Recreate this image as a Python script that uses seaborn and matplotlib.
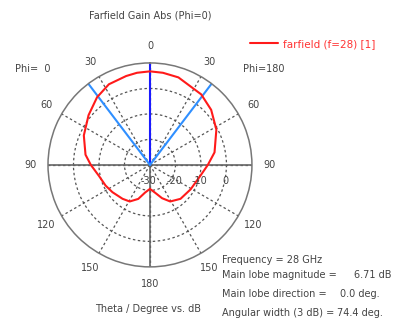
import numpy as np
import pandas as pd
import seaborn as sns
import matplotlib.pyplot as plt

# DATA (theta in deg, gain in dB)
theta_phi0 = [0, 8, 15, 27, 38, 51, 66, 81, 90, 102, 115, 126, 141, 151, 161, 170, 180]
gain_phi0 = [6.7, 6.5, 6.1, 5.5, 3.7, 1.0, -1.6, -4.4, -6.8, -9.5, -10.8, -11.8, -12.9, -13.6, -15.9, -19.0, -20.6]
theta_phi180 = [0, 8, 18, 36, 48, 62, 79, 90, 101, 121, 138, 151, 160, 170, 180]
gain_phi180 = [6.7, 6.5, 6.1, 4.2, 2.3, -0.5, -4.2, -7.3, -9.6, -11.4, -12.1, -13.6, -16.1, -19.0, -20.6]

ring_values = [-30, -20, -10, 0]
angle_ticks = [0, 30, 60, 90, 120, 150, 180, 210, 240, 270, 300, 330]
angle_labels = ['0', '30', '60', '90', '120', '150', '180', '150', '120', '90', '60', '30']

main_lobe_dir = 0.0
beam_width = 74.4
info_labels = ['Frequency = 28 GHz', 'Main lobe magnitude =', 'Main lobe direction =', 'Angular width (3 dB) =']
info_values = ['', '6.71 dB', '0.0 deg.', '74.4 deg.']

# phi=0 half on the left (negative angles), phi=180 half on the right
angle = [-t for t in theta_phi0[::-1]] + theta_phi180[1:]
gain = gain_phi0[::-1] + gain_phi180[1:]
df = pd.DataFrame({'angle': np.radians(angle), 'gain': gain})

sns.set_style('white')
plt.rcParams['font.family'] = ['DejaVu Sans']
txt = '#444444'
fs = 7

fig = plt.figure(figsize=(4.12, 3.24), dpi=100)
ax = fig.add_axes([0.1165, 0.176, 0.495, 0.63], projection='polar')
ax.set_theta_zero_location('N')
ax.set_theta_direction(-1)
ax.set_ylim(-30, 10)

# GRID
dot = (0, (2, 2))
ax.set_yticks([-20, -10, 0])
ax.set_yticklabels([])
ax.set_xticks(np.radians(angle_ticks))
ax.set_xticklabels(angle_labels, fontsize=fs, color=txt)
ax.tick_params(axis='x', pad=2)
ax.grid(True, linestyle=dot, color='#555555', linewidth=0.9)
ax.spines['polar'].set_color('#777777')
ax.spines['polar'].set_linewidth(1.1)
for a in [90, 180, 270]:
    ax.axvline(np.radians(a), color='#666666', linewidth=1.2)

# main lobe + 3 dB width lines
ax.axvline(np.radians(main_lobe_dir), color='#1a1aff', linewidth=1.5)
for s in [-1, 1]:
    ax.axvline(np.radians(s * beam_width / 2), color='#2f8fff', linewidth=1.5)

# PATTERN
sns.lineplot(data=df, x='angle', y='gain', sort=False, estimator=None,
             color='#ff1a1a', linewidth=1.5, ax=ax, label='farfield (f=28) [1]')
ax.set_xlabel('')
ax.set_ylabel('')

# radial labels under the horizontal axis
for v in ring_values:
    ax.annotate(str(v), xy=(np.pi / 2, v), xytext=(-1, -11.5), textcoords='offset points',
                ha='center', va='center', fontsize=fs, color=txt)

leg = ax.legend(loc='center left', bbox_to_anchor=(250 / 412, 1 - 44 / 324),
                bbox_transform=fig.transFigure, frameon=False, fontsize=7.5,
                borderpad=0, borderaxespad=0, handlelength=2.7, handletextpad=0.5)
for t in leg.get_texts():
    t.set_color('#ff3333')

# TEXTS
fig.text(150 / 412, 1 - 19 / 324, 'Farfield Gain Abs (Phi=0)', ha='center', va='baseline', fontsize=fs, color=txt)
fig.text(15 / 412, 1 - 69 / 324, 'Phi=  0', va='center', fontsize=fs, color=txt)
fig.text(243 / 412, 1 - 69 / 324, 'Phi=180', va='center', fontsize=fs, color=txt)
fig.text(148 / 412, 1 - 309 / 324, 'Theta / Degree vs. dB', ha='center', va='center', fontsize=fs, color=txt)

info_y = [260, 275, 294, 313]
value_x = [0, 354, 340, 337]
for lab, val, y, vx in zip(info_labels, info_values, info_y, value_x):
    fig.text(222 / 412, 1 - y / 324, lab, va='center', fontsize=fs, color=txt)
    if val:
        fig.text(vx / 412, 1 - y / 324, val, va='center', fontsize=fs, color=txt)

fig.savefig('out.png', dpi=100)
